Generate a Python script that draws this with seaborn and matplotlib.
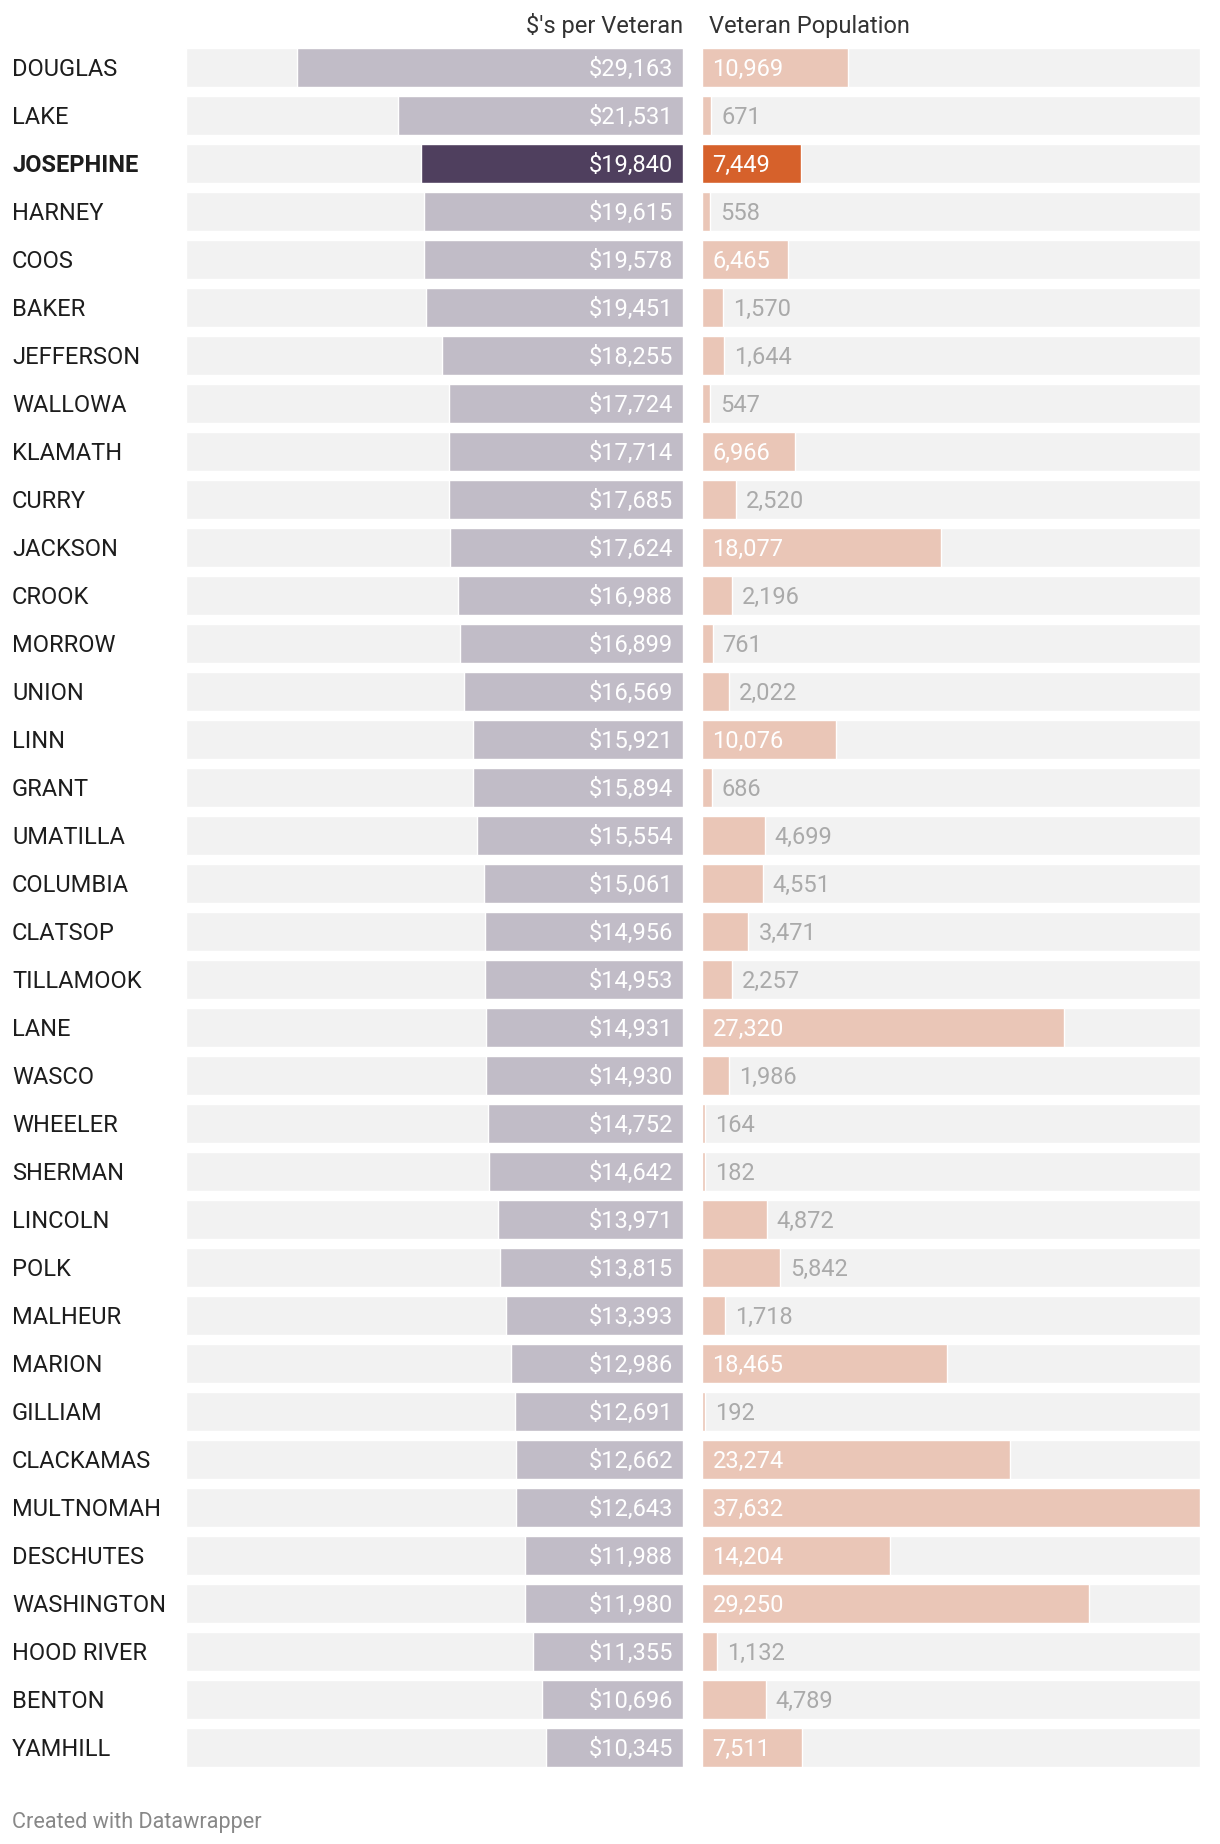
import matplotlib
matplotlib.use("Agg")
import matplotlib.pyplot as plt
import matplotlib.transforms as mtransforms
import seaborn as sns
import pandas as pd

# data
counties = ['DOUGLAS', 'LAKE', 'JOSEPHINE', 'HARNEY', 'COOS', 'BAKER', 'JEFFERSON',
            'WALLOWA', 'KLAMATH', 'CURRY', 'JACKSON', 'CROOK', 'MORROW', 'UNION',
            'LINN', 'GRANT', 'UMATILLA', 'COLUMBIA', 'CLATSOP', 'TILLAMOOK', 'LANE',
            'WASCO', 'WHEELER', 'SHERMAN', 'LINCOLN', 'POLK', 'MALHEUR', 'MARION',
            'GILLIAM', 'CLACKAMAS', 'MULTNOMAH', 'DESCHUTES', 'WASHINGTON',
            'HOOD RIVER', 'BENTON', 'YAMHILL']
dollars_per_vet = [29163, 21531, 19840, 19615, 19578, 19451, 18255, 17724, 17714,
                   17685, 17624, 16988, 16899, 16569, 15921, 15894, 15554, 15061,
                   14956, 14953, 14931, 14930, 14752, 14642, 13971, 13815, 13393,
                   12986, 12691, 12662, 12643, 11988, 11980, 11355, 10696, 10345]
vet_population = [10969, 671, 7449, 558, 6465, 1570, 1644, 547, 6966, 2520, 18077,
                  2196, 761, 2022, 10076, 686, 4699, 4551, 3471, 2257, 27320, 1986,
                  164, 182, 4872, 5842, 1718, 18465, 192, 23274, 37632, 14204,
                  29250, 1132, 4789, 7511]
highlight = 'JOSEPHINE'

df = pd.DataFrame({'county': counties, 'dollars': dollars_per_vet, 'pop': vet_population})
xmax = max(max(dollars_per_vet), max(vet_population))

sns.set_theme(style="white")
plt.rcParams['font.family'] = ['Roboto', 'DejaVu Sans']
plt.rcParams['text.parse_math'] = False

W, H = 1220, 1844
fig = plt.figure(figsize=(W / 100, H / 100), dpi=100)
fig.patch.set_facecolor('white')

bottom = 1 - 1767 / H
height = (1767 - 48) / H
ax_l = fig.add_axes([185.5 / W, bottom, (683 - 185.5) / W, height])
ax_r = fig.add_axes([702.5 / W, bottom, (1200 - 702.5) / W, height])

bar_h = 0.81
n = len(counties)
left_cols = ['#4f3f5e' if c == highlight else '#c1bcc7' for c in counties]
right_cols = ['#d6612b' if c == highlight else '#eac6b7' for c in counties]

for ax in (ax_l, ax_r):
    ax.barh(range(n), [xmax] * n, height=bar_h, color='#f2f2f2', zorder=0)

sns.barplot(data=df, x='dollars', y='county', hue='county', palette=left_cols,
            legend=False, orient='h', width=bar_h, ax=ax_l, saturation=1, zorder=2)
sns.barplot(data=df, x='pop', y='county', hue='county', palette=right_cols,
            legend=False, orient='h', width=bar_h, ax=ax_r, saturation=1, zorder=2)

ax_l.set_xlim(xmax, 0)
ax_r.set_xlim(0, xmax)
for ax in (ax_l, ax_r):
    ax.set_ylim(n - 1 + bar_h / 2, -bar_h / 2)
    ax.axis('off')

fs = 17
dy = -2  # nudge text down a touch
# value labels
for i, (c, d, p) in enumerate(zip(counties, dollars_per_vet, vet_population)):
    ax_l.annotate(f'${d:,}', xy=(0, i), xytext=(-10, dy), textcoords='offset pixels',
                  ha='right', va='center', fontsize=fs, color='white', zorder=3)
    if p >= 6400:
        ax_r.annotate(f'{p:,}', xy=(0, i), xytext=(10, dy), textcoords='offset pixels',
                      ha='left', va='center', fontsize=fs, color='white', zorder=3)
    else:
        ax_r.annotate(f'{p:,}', xy=(p, i), xytext=(10, dy), textcoords='offset pixels',
                      ha='left', va='center', fontsize=fs, color='#aaaaaa', zorder=3)

# county names
trans = mtransforms.blended_transform_factory(fig.transFigure, ax_l.transData)
for i, c in enumerate(counties):
    ax_l.annotate(c, xy=(12 / W, i), xycoords=trans, xytext=(0, dy),
                  textcoords='offset pixels', ha='left', va='center', fontsize=fs,
                  color='#1d1d1d', fontweight='bold' if c == highlight else 'normal')

# headers
fig.text(683 / W, 1 - 26 / H, "$'s per Veteran", ha='right', va='center',
         fontsize=fs, color='#333333')
fig.text(709 / W, 1 - 26 / H, "Veteran Population", ha='left', va='center',
         fontsize=fs, color='#333333')

fig.text(12 / W, 1 - 1822 / H, "Created with Datawrapper", ha='left', va='center',
         fontsize=15.6, color='#888888')

fig.savefig('out.png', dpi=100, facecolor='white')
